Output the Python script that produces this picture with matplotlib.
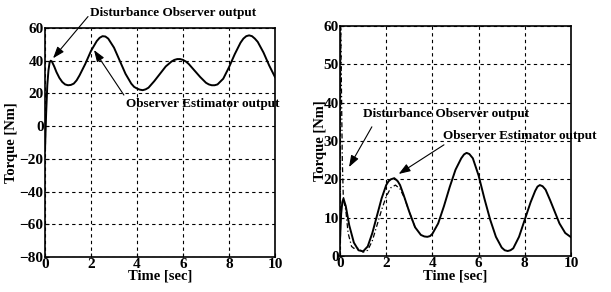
import matplotlib
matplotlib.use("Agg")
import matplotlib.pyplot as plt

plt.rcParams["font.family"] = ["Liberation Serif", "DejaVu Serif"]
plt.rcParams["font.weight"] = "bold"

# left panel: both outputs coincide
t_left = [0.0, 0.05, 0.1, 0.15, 0.2, 0.25, 0.3, 0.4, 0.5, 0.625, 0.75, 0.875,
          1.0, 1.125, 1.25, 1.375, 1.5, 1.75,
          2.0, 2.25, 2.375, 2.5, 2.625, 2.75, 3.0, 3.25, 3.5, 3.75, 3.875,
          4.0, 4.125, 4.25, 4.375, 4.5, 4.75,
          5.0, 5.25, 5.5, 5.625, 5.75, 5.875, 6.0, 6.125, 6.25, 6.5, 6.75,
          7.0, 7.125, 7.25, 7.375, 7.5, 7.75,
          8.0, 8.25, 8.5, 8.625, 8.75, 8.875, 9.0, 9.125, 9.25, 9.5, 9.75, 10.0]
torque_left = [-15, 8, 25, 34, 39, 40, 39.5, 36.5, 33, 29.5, 27, 25.5,
               25, 25.2, 26, 28, 31, 38,
               46, 52, 54, 55, 54.8, 53.5, 48, 40, 32, 26, 24,
               23, 22.3, 22, 22.5, 23.5, 27.5,
               32, 36.5, 39.5, 40.5, 41, 41, 40.5, 39.5, 38, 34, 30,
               26.5, 25.5, 25, 25, 25.5, 29,
               36, 44, 51, 53.5, 55, 55.5, 55, 53.5, 51.5, 45, 37, 30]

# right panel
t_right = [0.0, 0.05, 0.1, 0.15, 0.25, 0.4, 0.6, 0.8, 1.0, 1.2, 1.4, 1.6, 1.8,
           2.0, 2.1, 2.2, 2.35, 2.5, 2.6, 2.75, 3.0, 3.25, 3.5, 3.65, 3.78,
           3.9, 4.0, 4.25, 4.5,
           4.75, 5.0, 5.25, 5.37, 5.48, 5.6, 5.75, 6.0, 6.25, 6.5, 6.75, 7.0,
           7.13, 7.26, 7.38, 7.5,
           7.75, 8.0, 8.25, 8.45, 8.55, 8.65, 8.77, 8.9, 9.1, 9.3, 9.5, 9.75, 10.0]
estimator_right = [4, 11, 14, 15, 13, 8, 3.5, 1.5, 1.2, 2.5, 6, 10.5, 15,
                   18.5, 19.5, 20, 20.3, 19.5, 18.5, 16, 11.5, 7.5, 5.5, 5.1, 5,
                   5.2, 5.8, 8.5, 13,
                   18, 22.5, 25.5, 26.5, 26.9, 26.6, 25.5, 21, 15, 9.5, 5, 2.2,
                   1.5, 1.3, 1.5, 2,
                   5, 9.5, 14, 17, 18.1, 18.5, 18.2, 17.3, 14.5, 11.5, 8.5, 6, 4.9]

t_dist = [0.0, 0.03, 0.06, 0.1, 0.14, 0.17, 0.25, 0.35, 0.5, 0.6, 0.8, 1.0,
          1.2, 1.4, 1.6, 1.8, 2.0, 2.2, 2.4, 2.6, 2.8, 3.0, 3.25]
disturbance_right = [0, 60, 45, 25, 16, 14, 12, 6, 2.5, 2, 2, 1, 1.5, 4, 8,
                     12, 15.5, 17.8, 18.5, 17.5, 15, 11.5, 7.5]

fig = plt.figure(figsize=(6.11, 2.92), dpi=100)
ax1 = fig.add_axes([45 / 611, 35 / 292, 230 / 611, 229 / 292])
ax2 = fig.add_axes([340 / 611, 36 / 292, 231 / 611, 230 / 292])


def style(ax, yticks, ypad):
    ax.set_xlim(0, 10)
    ax.set_ylim(yticks[0], yticks[-1])
    ax.set_xticks(range(0, 11, 2))
    ax.set_yticks(yticks)
    ax.grid(True, color="black", linestyle=(0, (3, 3)), linewidth=0.8)
    ax.tick_params(direction="in", length=3, width=0.8, labelsize=11, pad=1)
    for lbl in ax.get_xticklabels() + ax.get_yticklabels():
        lbl.set_fontweight("bold")
    for s in ax.spines.values():
        s.set_linewidth(1.2)
    ax.set_xlabel("Time [sec]", fontsize=10.5, fontweight="bold", labelpad=-1)
    ax.set_ylabel("Torque [Nm]", fontsize=10.5, fontweight="bold", labelpad=ypad)


arrow = dict(arrowstyle="-|>,head_length=0.7,head_width=0.25", color="black",
             lw=0.8, shrinkA=0, shrinkB=0)

ax1.plot(t_left, torque_left, color="black", lw=1.4, solid_joinstyle="round")
style(ax1, list(range(-80, 61, 20)), 1)
ax1.annotate("", xy=(0.35, 41.5), xytext=(1.87, 67), arrowprops=arrow,
             annotation_clip=False)
ax1.text(1.95, 69, "Disturbance Observer output", fontsize=9.5,
         fontweight="bold", va="center", ha="left", clip_on=False)
ax1.annotate("", xy=(2.13, 46.5), xytext=(3.43, 19), arrowprops=arrow)
ax1.text(3.5, 13.5, "Observer Estimator output", fontsize=9.5,
         fontweight="bold", va="center", ha="left", clip_on=False)

ax2.plot(t_dist, disturbance_right, color="black", lw=0.9,
         linestyle=(0, (4, 2, 1, 2)))
ax2.plot(t_right, estimator_right, color="black", lw=1.4, solid_joinstyle="round")
style(ax2, list(range(0, 61, 10)), -3)
ax2.annotate("", xy=(0.39, 23.2), xytext=(1.38, 33.7), arrowprops=arrow)
ax2.text(0.99, 37, "Disturbance Observer output", fontsize=9.5,
         fontweight="bold", va="center", ha="left", clip_on=False)
ax2.annotate("", xy=(2.54, 21.4), xytext=(4.5, 29), arrowprops=arrow)
ax2.text(4.44, 31.3, "Observer Estimator output", fontsize=9.5,
         fontweight="bold", va="center", ha="left", clip_on=False)

fig.savefig("out.png", dpi=100)
